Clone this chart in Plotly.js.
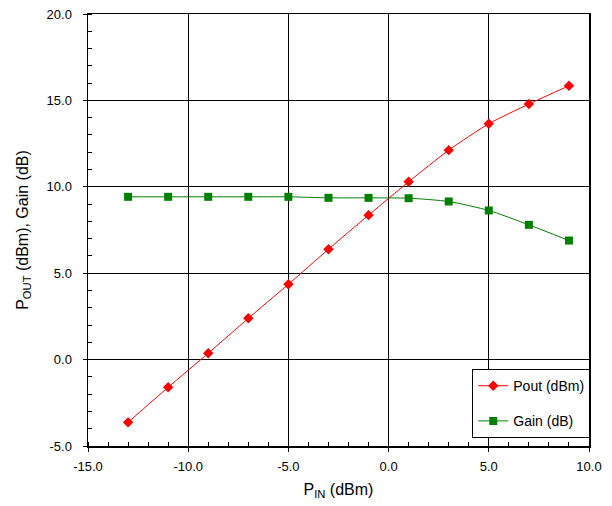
<!DOCTYPE html>
<html>
<head>
<meta charset="utf-8">
<script src="https://cdn.plot.ly/plotly-3.0.1.min.js"></script>
<style>html,body{margin:0;padding:0;background:#fff;}#chart{width:612px;height:506px;}</style>
</head>
<body>
<div id="chart"></div>
<script>
const pin = [-13, -11, -9, -7, -5, -3, -1, 1, 3, 5, 7, 9];
const pout = [-3.63, -1.6, 0.37, 2.39, 4.36, 6.39, 8.36, 10.29, 12.12, 13.65, 14.79, 15.85];
const gain = [9.42, 9.42, 9.42, 9.42, 9.42, 9.36, 9.36, 9.34, 9.15, 8.63, 7.80, 6.89];
const xTicks = [-15, -10, -5, 0, 5, 10];
const xTickText = ['-15.0', '-10.0', '-5.0', '0.0', '5.0', '10.0'];
const yTicks = [-5, 0, 5, 10, 15, 20];
const yTickText = ['-5.0', '0.0', '5.0', '10.0', '15.0', '20.0'];

const traces = [
  {x: pin, y: pout, name: 'Pout (dBm)', legendgroup: 'a', mode: 'lines+markers', type: 'scatter',
   line: {color: '#ff0000', width: 1, shape: 'spline', smoothing: 0.6},
   marker: {symbol: 'diamond', size: 8, color: '#ff0000'}},
  {x: pin, y: gain, name: 'Gain (dB)', legendgroup: 'b', mode: 'lines+markers', type: 'scatter',
   line: {color: '#008000', width: 1, shape: 'spline', smoothing: 0.6},
   marker: {symbol: 'square', size: 8, color: '#008000'}}
];

const font = {family: 'Liberation Sans, Arial, sans-serif', color: '#000'};
const layout = {
  width: 612, height: 506,
  margin: {l: 88, r: 23, t: 14, b: 60},
  paper_bgcolor: '#fff', plot_bgcolor: '#fff',
  font: Object.assign({size: 13}, font),
  showlegend: true,
  legend: {x: 0.767, y: 0.178, xanchor: 'left', yanchor: 'top', bgcolor: '#fff',
           bordercolor: '#000', borderwidth: 1, font: Object.assign({size: 14}, font),
           tracegroupgap: 14, itemwidth: 30},
  xaxis: {range: [-15, 10], tickvals: xTicks, ticktext: xTickText, showgrid: true,
          gridcolor: '#000', gridwidth: 1, showline: true, linecolor: '#000', linewidth: 1.5,
          mirror: true, ticks: 'outside', ticklen: 4, tickcolor: '#000', zeroline: false,
          ticklabelstandoff: 4,
          minor: {dtick: 1, ticks: 'inside', ticklen: 4, tickcolor: '#000', showgrid: false},
          tickfont: Object.assign({size: 13}, font),
          title: {text: 'P<sub>IN</sub> (dBm)', font: Object.assign({size: 16}, font), standoff: 10}},
  yaxis: {range: [-5, 20], tickvals: yTicks, ticktext: yTickText, showgrid: true,
          gridcolor: '#000', gridwidth: 1, showline: true, linecolor: '#000', linewidth: 1.5,
          mirror: true, ticks: 'outside', ticklen: 4, tickcolor: '#000', zeroline: false,
          ticklabelstandoff: 8,
          minor: {dtick: 1, ticks: 'inside', ticklen: 4, tickcolor: '#000', showgrid: false},
          tickfont: Object.assign({size: 13}, font),
          title: {text: 'P<sub>OUT</sub> (dBm), Gain (dB)', font: Object.assign({size: 16}, font), standoff: 14}}
};
Plotly.newPlot('chart', traces, layout, {displayModeBar: false, staticPlot: true});
</script>
</body>
</html>
